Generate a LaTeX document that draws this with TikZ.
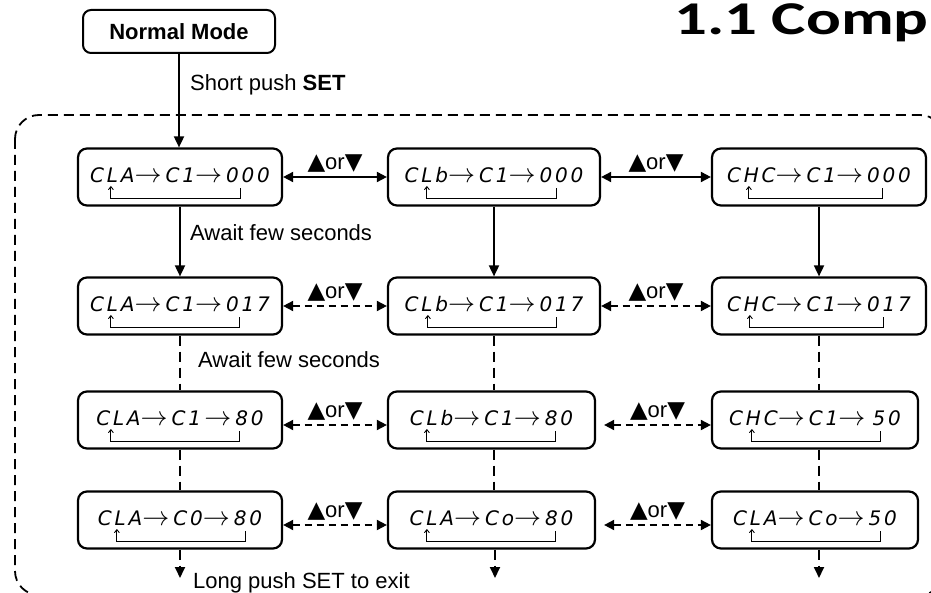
\documentclass[tikz,border=0pt]{standalone}
\usepackage{graphicx}
\usepackage{fontspec}
\setmainfont{Liberation Sans}
\newfontfamily\titlefont{Carlito}
\newfontfamily\symfont{DejaVu Sans}
\newfontfamily\segfont[LetterSpace=14]{DejaVu Sans}
\usetikzlibrary{arrows.meta,positioning}

% arrow between the display codes
\newcommand{\segarr}{{\normalsize\scalebox{2.7}{$\rightarrow$}}\hspace{4pt}}
% display text of one step
\newcommand{\seg}[3]{\raisebox{4pt}{\fontsize{20}{20}\selectfont\segfont\itshape #1\segarr #2\segarr #3}}
\newcommand{\updown}{{\symfont\fontsize{23}{24}\selectfont ▲}or{\symfont\fontsize{23}{24}\selectfont ▼}}
% small return line under a display
\newcommand{\loopback}[3]{\draw[loopline] ([shift={(#2,9)}]#1.west) |- ([shift={(#3,21)}]#1.west) -- ([shift={(#3,11)}]#1.west);}

\begin{document}
\begin{tikzpicture}[x=1pt,y=-1pt,
    box/.style={draw, line width=2.2pt, rounded corners=9pt, minimum height=57pt, inner sep=0pt},
    startbox/.style={draw, line width=2pt, rounded corners=8pt, minimum width=192pt, minimum height=43pt, inner sep=0pt},
    conn/.style={line width=1.8pt, -{Triangle[length=11pt,width=10pt]}},
    both/.style={line width=1.8pt, {Triangle[length=10pt,width=10pt]}-{Triangle[length=10pt,width=10pt]}},
    dboth/.style={both, dash pattern=on 7pt off 5pt},
    dline/.style={line width=1.8pt, dash pattern=on 10pt off 6pt},
    dconn/.style={conn, dash pattern=on 10pt off 6pt},
    loopline/.style={line width=0.9pt, {Straight Barb[length=3pt,width=5pt]}-},
    lab/.style={font=\fontsize{22}{24}\selectfont, inner sep=0pt}]
\useasboundingbox (0,0) rectangle (931,593);
\clip (0,0) rectangle (931,593);

% title
\node[anchor=base west, inner sep=0pt] (title) at (674,35)
    {\titlefont\bfseries\fontsize{47}{47}\selectfont\scalebox{1.38}[1]{1.1 Comp}};

% setting area
\draw[line width=1.8pt, dash pattern=on 10pt off 6pt, rounded corners=24pt] (15,115) rectangle (944,595);

\node[startbox] (nm) at (179,31.5) {\fontsize{22}{24}\selectfont\bfseries Normal Mode};

% row 1
\node[box, minimum width=204pt] (b11) at (180,177) {\seg{CLA}{C1}{000}};
\node[box, minimum width=212pt] (b12) at (494,177) {\seg{CLb}{C1}{000}};
\node[box, minimum width=214pt] (b13) at (819,177) {\seg{CHC}{C1}{000}};
% row 2
\node[box, minimum width=204pt] (b21) at (180,306) {\seg{CLA}{C1}{017}};
\node[box, minimum width=212pt] (b22) at (494,306) {\seg{CLb}{C1}{017}};
\node[box, minimum width=214pt] (b23) at (819,306) {\seg{CHC}{C1}{017}};
% row 3
\node[box, minimum width=204pt] (b31) at (180,420) {\seg{CLA}{C1\,}{80}};
\node[box, minimum width=207pt] (b32) at (491.5,420) {\seg{CLb}{C1}{80}};
\node[box, minimum width=206pt] (b33) at (815,420) {\seg{CHC}{C1}{\,50}};
% row 4
\node[box, minimum width=204pt] (b41) at (180,520) {\seg{CLA}{C0}{80}};
\node[box, minimum width=207pt] (b42) at (491.5,520) {\seg{CLA}{Co}{80}};
\node[box, minimum width=206pt] (b43) at (815,520) {\seg{CLA}{Co}{50}};

% return lines
\loopback{b11}{34}{164} \loopback{b12}{40}{170} \loopback{b13}{38}{172}
\loopback{b21}{34}{163} \loopback{b22}{41}{170} \loopback{b23}{39}{173}
\loopback{b31}{34}{163} \loopback{b32}{40}{169} \loopback{b33}{41}{170}
\loopback{b41}{40}{169} \loopback{b42}{40}{169} \loopback{b43}{41}{170}

% enter
\draw[conn] (nm.south) -- (nm.south |- b11.north);
\node[lab, anchor=base west] (short) at (190,91) {Short push \textbf{SET}};

% down the columns
\draw[conn] (b11.south) -- (b21.north);
\draw[conn] (b12.south) -- (b22.north);
\draw[conn] (b13.south) -- (b23.north);
\node[lab, anchor=base west] (wait1) at (190,241) {Await few seconds};
\draw[dline] (b21.south) -- (b31.north);
\draw[dline] (b22.south) -- (b22.south |- b32.north);
\draw[dline] (b23.south) -- (b23.south |- b33.north);
\node[lab, anchor=base west] (wait2) at (198,367) {Await few seconds};
\draw[dline] (b31.south) -- (b41.north);
\draw[dline] (b22.south |- b32.south) -- (b22.south |- b42.north);
\draw[dline] (b23.south |- b33.south) -- (b23.south |- b43.north);

% exit
\coordinate (x1) at (180,578);
\coordinate (x2) at (495,578);
\coordinate (x3) at (819,578);
\draw[dconn] (b41.south) -- (x1);
\draw[dconn] (x2 |- b42.south) -- (x2);
\draw[dconn] (x3 |- b43.south) -- (x3);
\node[lab, anchor=base west] (exit) at (193,588) {Long push SET to exit};

% across the rows
\draw[both] (b11.east) -- node[lab, above=4pt] {\updown} (b12.west);
\draw[both] (b12.east) -- node[lab, above=4pt] {\updown} (b13.west);
\draw[dboth] (b21.east) -- node[lab, above=4pt] {\updown} (b22.west);
\draw[dboth] (b22.east) -- node[lab, above=4pt] {\updown} (b23.west);
\draw[dboth] ([yshift=-5pt]b31.east) -- node[lab, above=4pt] {\updown} ([yshift=-5pt]b32.west);
\draw[dboth] ([shift={(8,5)}]b32.east) -- node[lab, above=4pt] {\updown} ([yshift=-5pt]b33.west);
\draw[dboth] ([yshift=-5pt]b41.east) -- node[lab, above=4pt] {\updown} ([yshift=-5pt]b42.west);
\draw[dboth] ([shift={(8,5)}]b42.east) -- node[lab, above=4pt] {\updown} ([yshift=-5pt]b43.west);
\end{tikzpicture}
\end{document}
